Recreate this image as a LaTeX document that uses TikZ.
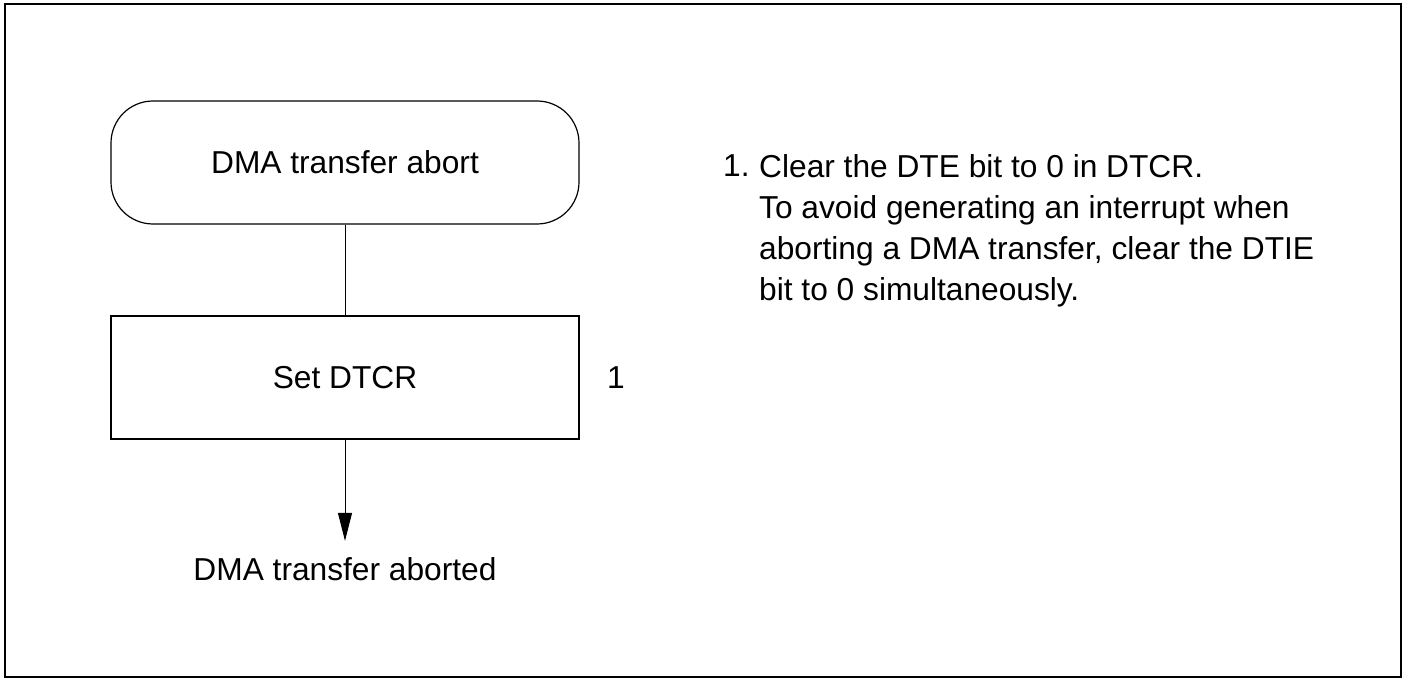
\documentclass[tikz,border=0pt]{standalone}
\usepackage{fontspec}
\setmainfont{Liberation Sans}
\usetikzlibrary{arrows.meta,positioning}

\begin{document}
\begin{tikzpicture}[x=1pt, y=-1pt,
    every node/.style={font=\fontsize{31.7}{41}\selectfont},
    terminal/.style={draw, line width=1.2pt, rounded corners=42pt, minimum width=468pt, minimum height=123pt},
    process/.style={draw, line width=1.2pt, minimum width=468pt, minimum height=123pt},
    flow/.style={line width=1pt, -{Triangle[length=28pt, width=14pt]}}
  ]
  \useasboundingbox (0,0) rectangle (1406,679);
  \draw[line width=1.5pt] (5,4) rectangle (1401,677);

  % flow chart
  \node[terminal] (abort) at (345,162.5) {DMA transfer abort};
  \node[process] (setdtcr) at (345,377.5) {Set DTCR};
  \node[anchor=base, inner sep=16pt] (aborted) at (345,580) {DMA transfer aborted};
  \node[anchor=base] (stepnum) at (616,388) {1};

  \draw[line width=1pt] (abort) -- (setdtcr);
  \draw[flow] (setdtcr) -- (aborted);

  % notes
  \node[anchor=base west, inner sep=0pt] (notenum) at (723,177) {1.};
  \node[anchor=north west, inner sep=0pt, align=left] (note) at (759,154) {Clear the DTE bit to 0 in DTCR.\\
    To avoid generating an interrupt when\\
    aborting a DMA transfer, clear the DTIE\\
    bit to 0 simultaneously.};
\end{tikzpicture}
\end{document}
